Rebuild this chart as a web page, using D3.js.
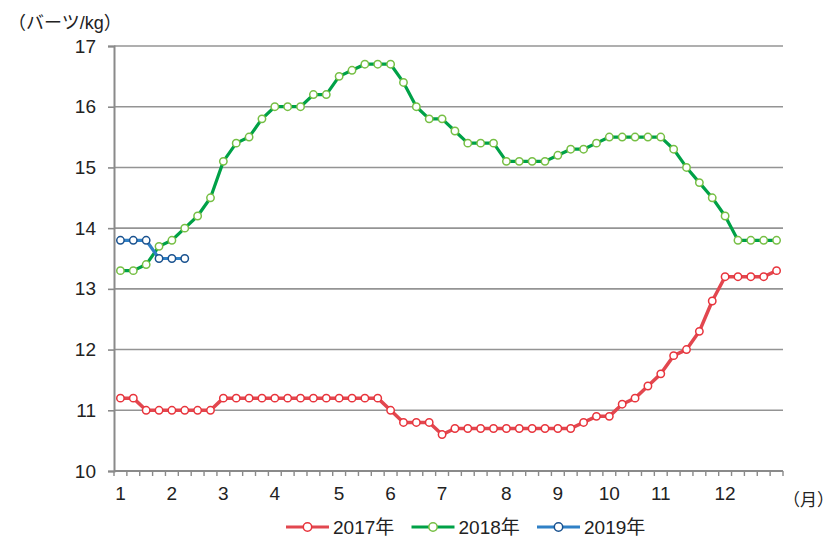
<!DOCTYPE html>
<html>
<head>
<meta charset="utf-8">
<script src="https://cdn.jsdelivr.net/npm/d3@7"></script>
<style>
  body { margin: 0; background: #fff; }
  text { font-family: "Liberation Sans", "Noto Sans CJK JP", sans-serif; fill: #222; }
</style>
</head>
<body>
<svg id="chart"></svg>
<script>
// weekly prices (baht/kg), 52 weeks
const weeks = d3.range(52);
const monthLabels = ['1','2','3','4','5','6','7','8','9','10','11','12'];
const monthWeek = [0, 4, 8, 12, 17, 21, 25, 30, 34, 38, 42, 47];
const yTicks = [10, 11, 12, 13, 14, 15, 16, 17];

const s2017 = [11.2, 11.2, 11.0, 11.0, 11.0, 11.0, 11.0, 11.0, 11.2, 11.2,
               11.2, 11.2, 11.2, 11.2, 11.2, 11.2, 11.2, 11.2, 11.2, 11.2,
               11.2, 11.0, 10.8, 10.8, 10.8, 10.6, 10.7, 10.7, 10.7, 10.7,
               10.7, 10.7, 10.7, 10.7, 10.7, 10.7, 10.8, 10.9, 10.9, 11.1,
               11.2, 11.4, 11.6, 11.9, 12.0, 12.3, 12.8, 13.2, 13.2, 13.2,
               13.2, 13.3];
const s2018 = [13.3, 13.3, 13.4, 13.7, 13.8, 14.0, 14.2, 14.5, 15.1, 15.4,
               15.5, 15.8, 16.0, 16.0, 16.0, 16.2, 16.2, 16.5, 16.6, 16.7,
               16.7, 16.7, 16.4, 16.0, 15.8, 15.8, 15.6, 15.4, 15.4, 15.4,
               15.1, 15.1, 15.1, 15.1, 15.2, 15.3, 15.3, 15.4, 15.5, 15.5,
               15.5, 15.5, 15.5, 15.3, 15.0, 14.75, 14.5, 14.2, 13.8, 13.8,
               13.8, 13.8];
const s2019 = [13.8, 13.8, 13.8, 13.5, 13.5, 13.5];

const seriesNames = ['2017年', '2018年', '2019年'];

const width = 834, height = 543;
const margins = { top: 46, bottom: 72, left: 114, right: 51 };

const svg = d3.select('#chart')
    .attr('width', width)
    .attr('height', height);

const x = d3.scaleBand()
    .domain(weeks)
    .range([margins.left, width - margins.right])
    .padding(0);
const y = d3.scaleLinear()
    .domain([10, 17])
    .range([height - margins.bottom, margins.top]);
const bw = x.bandwidth();
const cx = i => x(i) + bw / 2;

// gridlines
svg.append('g')
    .selectAll('line')
    .data(yTicks.slice(1))
    .enter()
    .append('line')
    .attr('x1', margins.left)
    .attr('x2', width - margins.right)
    .attr('y1', d => y(d))
    .attr('y2', d => y(d))
    .attr('stroke', '#949494')
    .attr('stroke-width', 1.6);

// y axis
const yAxis = svg.append('g')
    .attr('transform', `translate(${margins.left},0)`)
    .call(d3.axisLeft(y).tickValues(yTicks).tickSize(6).tickPadding(12).tickFormat(d3.format('d')));
yAxis.select('.domain').attr('stroke', '#8a8a8a').attr('stroke-width', 2);
yAxis.selectAll('.tick line').attr('stroke', '#8a8a8a').attr('stroke-width', 1.6);
yAxis.selectAll('.tick text').attr('font-size', 19).attr('fill', '#222');

// x axis: minor tick for every week, label at first week of each month
const xAxis = svg.append('g')
    .attr('transform', `translate(0,${height - margins.bottom})`);
xAxis.append('line')
    .attr('x1', margins.left)
    .attr('x2', width - margins.right)
    .attr('stroke', '#8a8a8a')
    .attr('stroke-width', 2);
xAxis.selectAll('.wk')
    .data(d3.range(53))
    .enter()
    .append('line')
    .attr('class', 'wk')
    .attr('x1', d => margins.left + d * bw)
    .attr('x2', d => margins.left + d * bw)
    .attr('y1', 0)
    .attr('y2', 5)
    .attr('stroke', '#8a8a8a')
    .attr('stroke-width', 1.4);
xAxis.selectAll('.mlabel')
    .data(monthLabels)
    .enter()
    .append('text')
    .attr('class', 'mlabel')
    .attr('x', (d, i) => cx(monthWeek[i]))
    .attr('y', 29)
    .attr('text-anchor', 'middle')
    .attr('font-size', 19)
    .text(d => d);

svg.append('text')
    .attr('x', 783)
    .attr('y', 506)
    .attr('font-size', 17)
    .attr('font-family', '"Noto Sans CJK JP", sans-serif')
    .text('（月）');

svg.append('text')
    .attr('x', 8)
    .attr('y', 29)
    .attr('font-size', 18)
    .attr('font-family', '"Noto Sans CJK JP", sans-serif')
    .text('（バーツ/kg）');

// series
const styles = [
    { line: '#e2474f', marker: '#e8343c', data: s2017, w: 3.5 },
    { line: '#00a147', marker: '#76bf44', data: s2018, w: 3.2 },
    { line: '#2f80c6', marker: '#1a528f', data: s2019, w: 3.2 }
];

const line = d3.line()
    .x((d, i) => cx(i))
    .y(d => y(d));

styles.forEach(function(s) {
    svg.append('path')
        .datum(s.data)
        .attr('fill', 'none')
        .attr('stroke', s.line)
        .attr('stroke-width', s.w)
        .attr('stroke-linejoin', 'round')
        .attr('d', line);
});
styles.forEach(function(s) {
    svg.append('g')
        .selectAll('circle')
        .data(s.data)
        .enter()
        .append('circle')
        .attr('cx', (d, i) => cx(i))
        .attr('cy', d => y(d))
        .attr('r', 3.7)
        .attr('fill', '#fff')
        .attr('stroke', s.marker)
        .attr('stroke-width', 1.5);
});

// legend
const legend = svg.selectAll('.legend')
    .data(seriesNames)
    .enter()
    .append('g')
    .attr('class', 'legend')
    .attr('transform', (d, i) => `translate(${286 + i * 125.5},527)`);
legend.append('line')
    .attr('x1', 0)
    .attr('x2', 43)
    .attr('stroke', (d, i) => styles[i].line)
    .attr('stroke-width', 3.2);
legend.append('circle')
    .attr('cx', 21.5)
    .attr('r', 4.2)
    .attr('fill', '#fff')
    .attr('stroke', (d, i) => styles[i].marker)
    .attr('stroke-width', 1.5);
legend.append('text')
    .attr('x', 47)
    .attr('y', 7)
    .attr('font-size', 19)
    .text(d => d);
</script>
</body>
</html>
